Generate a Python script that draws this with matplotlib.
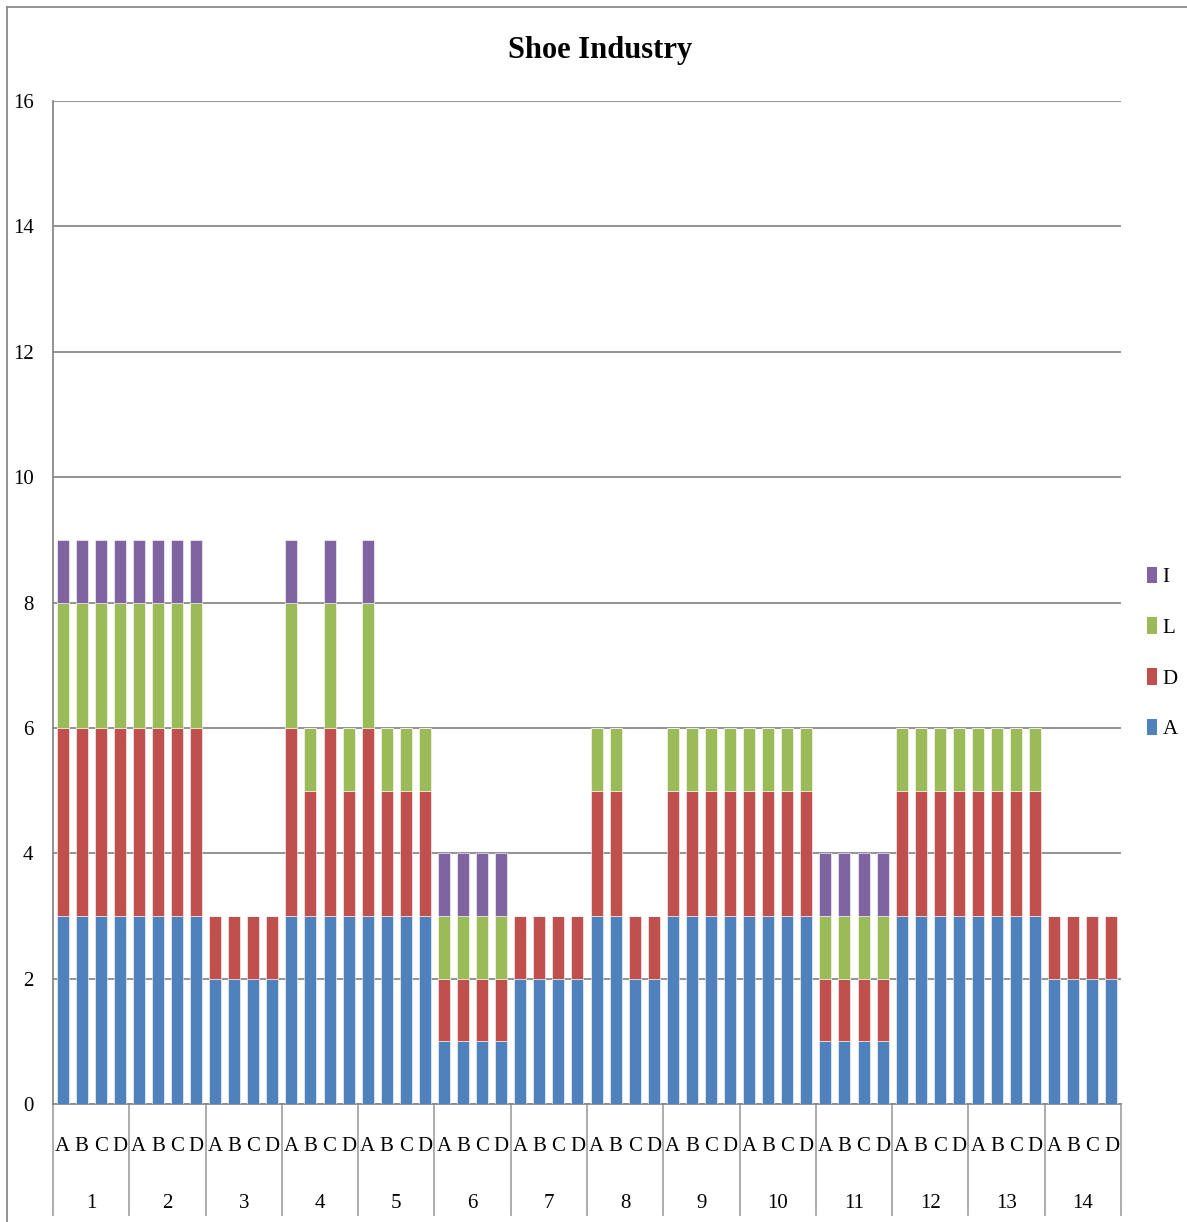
import numpy as np
import matplotlib
matplotlib.use("Agg")
import matplotlib.pyplot as plt
from matplotlib.lines import Line2D
from matplotlib.patches import Patch
import matplotlib.transforms as mtransforms

plt.rcParams["font.family"] = ["Liberation Serif", "DejaVu Serif"]

# data: 14 groups x 4 bars (A B C D), stacked series A, D, L, I
groups = [str(g) for g in range(1, 15)]
sub_labels = ["A", "B", "C", "D"]

series_A = [3, 3, 3, 3,  3, 3, 3, 3,  2, 2, 2, 2,  3, 3, 3, 3,  3, 3, 3, 3,
            1, 1, 1, 1,  2, 2, 2, 2,  3, 3, 2, 2,  3, 3, 3, 3,  3, 3, 3, 3,
            1, 1, 1, 1,  3, 3, 3, 3,  3, 3, 3, 3,  2, 2, 2, 2]
series_D = [3, 3, 3, 3,  3, 3, 3, 3,  1, 1, 1, 1,  3, 2, 3, 2,  3, 2, 2, 2,
            1, 1, 1, 1,  1, 1, 1, 1,  2, 2, 1, 1,  2, 2, 2, 2,  2, 2, 2, 2,
            1, 1, 1, 1,  2, 2, 2, 2,  2, 2, 2, 2,  1, 1, 1, 1]
series_L = [2, 2, 2, 2,  2, 2, 2, 2,  0, 0, 0, 0,  2, 1, 2, 1,  2, 1, 1, 1,
            1, 1, 1, 1,  0, 0, 0, 0,  1, 1, 0, 0,  1, 1, 1, 1,  1, 1, 1, 1,
            1, 1, 1, 1,  1, 1, 1, 1,  1, 1, 1, 1,  0, 0, 0, 0]
series_I = [1, 1, 1, 1,  1, 1, 1, 1,  0, 0, 0, 0,  1, 0, 1, 0,  1, 0, 0, 0,
            1, 1, 1, 1,  0, 0, 0, 0,  0, 0, 0, 0,  0, 0, 0, 0,  0, 0, 0, 0,
            1, 1, 1, 1,  0, 0, 0, 0,  0, 0, 0, 0,  0, 0, 0, 0]

series_names = ["A", "D", "L", "I"]
colors = {"A": "#4F81BD", "D": "#C0504D", "L": "#9BBB59", "I": "#8064A2"}
GRID = "#8a8a8a"

W, H = 1187, 1222
fig = plt.figure(figsize=(W / 100, H / 100), dpi=100)
ax = fig.add_axes([53 / W, 1 - 1104 / H, (1121 - 53) / W, (1104 - 101) / H])

x = np.arange(len(series_A))
bottom = np.zeros(len(x))
for name, vals in zip(series_names, [series_A, series_D, series_L, series_I]):
    vals = np.array(vals, dtype=float)
    ax.bar(x, vals, width=0.63, bottom=bottom, color=colors[name],
           edgecolor="white", linewidth=0.4, zorder=3)
    bottom += vals

ax.set_xlim(-0.5, len(x) - 0.5)
ax.set_ylim(0, 16)
ax.set_yticks(np.arange(0, 17, 2))
ax.yaxis.grid(True, color=GRID, linewidth=1.3)
ax.set_axisbelow(True)
ax.tick_params(axis="y", length=0, pad=14, labelsize=15)
ax.set_xticks([])
for s in ["top", "right"]:
    ax.spines[s].set_visible(False)
for s in ["left", "bottom"]:
    ax.spines[s].set_color(GRID)
    ax.spines[s].set_linewidth(1.3)

# two-level category axis
trans = mtransforms.blended_transform_factory(ax.transData, ax.transAxes)
n_sub = len(sub_labels)
for gi, g in enumerate(groups):
    for si, lab in enumerate(sub_labels):
        ax.text(gi * n_sub + si, -0.042, lab, transform=trans, ha="center",
                va="center", fontsize=15)
    ax.text(gi * n_sub + (n_sub - 1) / 2, -0.099, g, transform=trans,
            ha="center", va="center", fontsize=15)
for b in range(len(groups) + 1):
    ax.add_line(Line2D([b * n_sub - 0.5] * 2, [0, -0.111], transform=trans,
                       color="#a6a6a6", linewidth=1.3, clip_on=False))

ax.set_title("Shoe Industry", fontsize=22, fontweight="bold", pad=31,
             x=(600 - 53) / (1121 - 53))

# legend (I, L, D, A top to bottom)
handles = [Patch(facecolor=colors[n]) for n in series_names[::-1]]
fig.legend(handles, series_names[::-1], loc="center left",
           bbox_to_anchor=(1147 / W, 1 - 653 / H), frameon=False,
           fontsize=15, handlelength=0.5, handleheight=0.85,
           handletextpad=0.25, labelspacing=1.45, borderpad=0, borderaxespad=0)

# chart-area border
fig.add_artist(Line2D([7 / W, 1], [1 - 7 / H] * 2, transform=fig.transFigure,
                      color=GRID, linewidth=1.3))
fig.add_artist(Line2D([7 / W] * 2, [0, 1 - 7 / H], transform=fig.transFigure,
                      color=GRID, linewidth=1.3))

fig.savefig("out.png", dpi=100)
